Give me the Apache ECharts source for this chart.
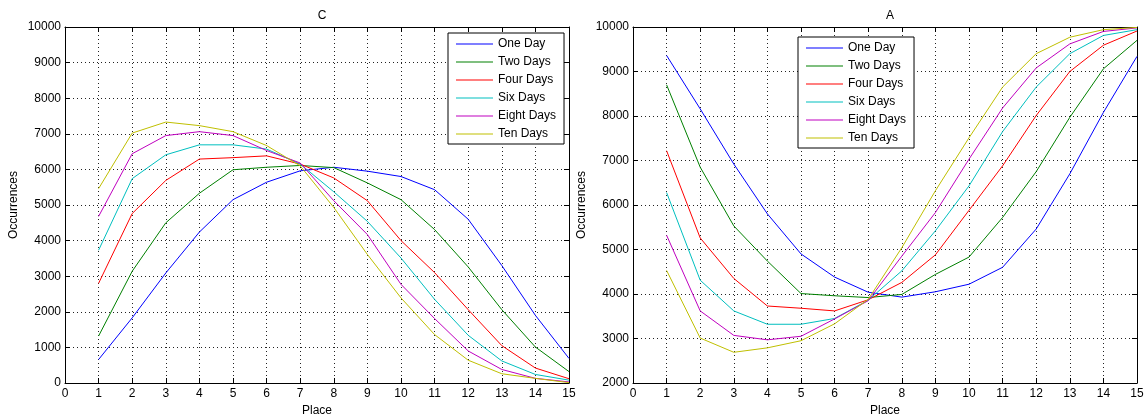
<!DOCTYPE html>
<html>
<head>
<meta charset="utf-8">
<script src="https://cdn.jsdelivr.net/npm/echarts@6/dist/echarts.min.js"></script>
<style>
html,body{margin:0;padding:0;background:#fff;}
#chart{width:1148px;height:416px;}
</style>
</head>
<body>
<div id="chart"></div>
<script>
const places = [1, 2, 3, 4, 5, 6, 7, 8, 9, 10, 11, 12, 13, 14, 15];
const seriesNames = ['One Day', 'Two Days', 'Four Days', 'Six Days', 'Eight Days', 'Ten Days'];
const titleLeft = 'C';
const titleRight = 'A';

// Chart C
const cOneDay   = [660, 1830, 3090, 4240, 5150, 5640, 5960, 6060, 5950, 5800, 5430, 4600, 3300, 1900, 690];
const cTwoDays  = [1320, 3140, 4500, 5330, 5990, 6060, 6110, 6050, 5620, 5150, 4310, 3260, 2060, 1010, 320];
const cFourDays = [2800, 4760, 5690, 6290, 6330, 6380, 6150, 5760, 5120, 4000, 3100, 2060, 1050, 420, 120];
const cSixDays  = [3730, 5740, 6410, 6690, 6690, 6570, 6150, 5370, 4540, 3510, 2350, 1340, 620, 240, 80];
const cEightDays= [4680, 6440, 6950, 7060, 6950, 6530, 6180, 5120, 4170, 2770, 1810, 900, 380, 130, 30];
const cTenDays  = [5460, 7020, 7330, 7230, 7060, 6670, 6100, 4930, 3610, 2390, 1360, 640, 260, 130, 10];

// Chart A
const aOneDay   = [9360, 8160, 6920, 5800, 4900, 4380, 4040, 3930, 4050, 4220, 4600, 5460, 6700, 8080, 9340];
const aTwoDays  = [8700, 6850, 5530, 4740, 4010, 3960, 3920, 3990, 4440, 4830, 5720, 6750, 7970, 9060, 9700];
const aFourDays = [7220, 5260, 4350, 3730, 3680, 3620, 3870, 4260, 4880, 5880, 6880, 8010, 9000, 9590, 9910];
const aSixDays  = [6280, 4310, 3620, 3320, 3320, 3450, 3860, 4520, 5420, 6430, 7650, 8650, 9400, 9810, 9940];
const aEightDays= [5320, 3620, 3070, 2970, 3050, 3440, 3850, 4850, 5830, 7030, 8180, 9080, 9620, 9900, 9980];
const aTenDays  = [4530, 3010, 2690, 2790, 2950, 3330, 3880, 5040, 6320, 7510, 8650, 9400, 9770, 9940, 9990];

const colors = ['#0000ff', '#008000', '#ff0000', '#00bfbf', '#bf00bf', '#bfbf00'];

const cData = [cOneDay, cTwoDays, cFourDays, cSixDays, cEightDays, cTenDays];
const aData = [aOneDay, aTwoDays, aFourDays, aSixDays, aEightDays, aTenDays];

const FONT = 'Liberation Sans, Arial, sans-serif';
const lbl = { color: '#000', fontFamily: FONT, fontSize: 12 };

function xAxes(gi) {
  return [
    {
      type: 'value', gridIndex: gi, min: 0, max: 15, interval: 1, position: 'bottom',
      name: 'Place', nameLocation: 'middle', nameGap: 20,
      nameTextStyle: lbl,
      axisLine: { onZero: false, lineStyle: { color: '#000', width: 1 } },
      axisTick: { inside: true, length: 5, lineStyle: { color: '#000' } },
      axisLabel: Object.assign({ margin: 5, formatter: v => String(v) }, lbl),
      splitLine: { show: true, lineStyle: { color: '#222', type: [1, 3], width: 1 } }
    },
    {
      type: 'value', gridIndex: gi, min: 0, max: 15, interval: 1, position: 'top',
      axisLine: { onZero: false, lineStyle: { color: '#000', width: 1 } },
      axisTick: { inside: true, length: 5, lineStyle: { color: '#000' } },
      axisLabel: { show: false },
      splitLine: { show: false }
    }
  ];
}
function yAxes(gi, min) {
  return [
    {
      type: 'value', gridIndex: gi, min: min, max: 10000, interval: 1000, position: 'left',
      name: 'Occurrences', nameLocation: 'middle', nameGap: 45,
      nameTextStyle: lbl,
      axisLine: { show: true, onZero: false, lineStyle: { color: '#000', width: 1 } },
      axisTick: { show: true, inside: true, length: 5, lineStyle: { color: '#000' } },
      axisLabel: Object.assign({ margin: 4, formatter: v => String(v) }, lbl),
      splitLine: { show: true, lineStyle: { color: '#222', type: [1, 3], width: 1 } }
    },
    {
      type: 'value', gridIndex: gi, min: min, max: 10000, interval: 1000, position: 'right',
      axisLine: { show: true, onZero: false, lineStyle: { color: '#000', width: 1 } },
      axisTick: { show: true, inside: true, length: 5, lineStyle: { color: '#000' } },
      axisLabel: { show: false },
      splitLine: { show: false }
    }
  ];
}

const series = [];
cData.forEach((arr, i) => {
  series.push({
    name: seriesNames[i], type: 'line', xAxisIndex: 0, yAxisIndex: 0,
    data: places.map((p, k) => [p, arr[k]]),
    symbol: 'none', color: colors[i],
    lineStyle: { width: 1, color: colors[i] }, animation: false
  });
});
aData.forEach((arr, i) => {
  series.push({
    name: seriesNames[i], type: 'line', xAxisIndex: 2, yAxisIndex: 2,
    data: places.map((p, k) => [p, arr[k]]),
    symbol: 'none', color: colors[i],
    lineStyle: { width: 1, color: colors[i] }, animation: false
  });
});

function legend(left, top) {
  return {
    orient: 'vertical', left: left, top: top,
    data: seriesNames.map(n => ({ name: n, icon: 'rect' })),
    itemWidth: 37, itemHeight: 1, itemGap: 4,
    padding: [4, 8, 3, 8],
    borderColor: '#000', borderWidth: 1, backgroundColor: '#fff',
    selectedMode: false,
    textStyle: { color: '#000', fontFamily: FONT, fontSize: 12, lineHeight: 14 }
  };
}

const option = {
  backgroundColor: '#fff',
  animation: false,
  title: [
    { text: titleLeft, left: 317, top: 5, textAlign: 'center', textStyle: { color: '#000', fontFamily: FONT, fontSize: 12, fontWeight: 'normal' } },
    { text: titleRight, left: 885, top: 5, textAlign: 'center', textStyle: { color: '#000', fontFamily: FONT, fontSize: 12, fontWeight: 'normal' } }
  ],
  grid: [
    { left: 65, top: 27, width: 504, height: 356, show: false, containLabel: false, outerBoundsMode: 'none' },
    { left: 633, top: 27, width: 504, height: 356, show: false, containLabel: false, outerBoundsMode: 'none' }
  ],
  xAxis: [...xAxes(0), ...xAxes(1)],
  yAxis: [...yAxes(0, 0), ...yAxes(1, 2000)],
  legend: [legend(448, 33), legend(798, 37)],
  series: series
};

const chart = echarts.init(document.getElementById('chart'), null, { renderer: 'canvas' });
chart.setOption(option);
</script>
</body>
</html>
